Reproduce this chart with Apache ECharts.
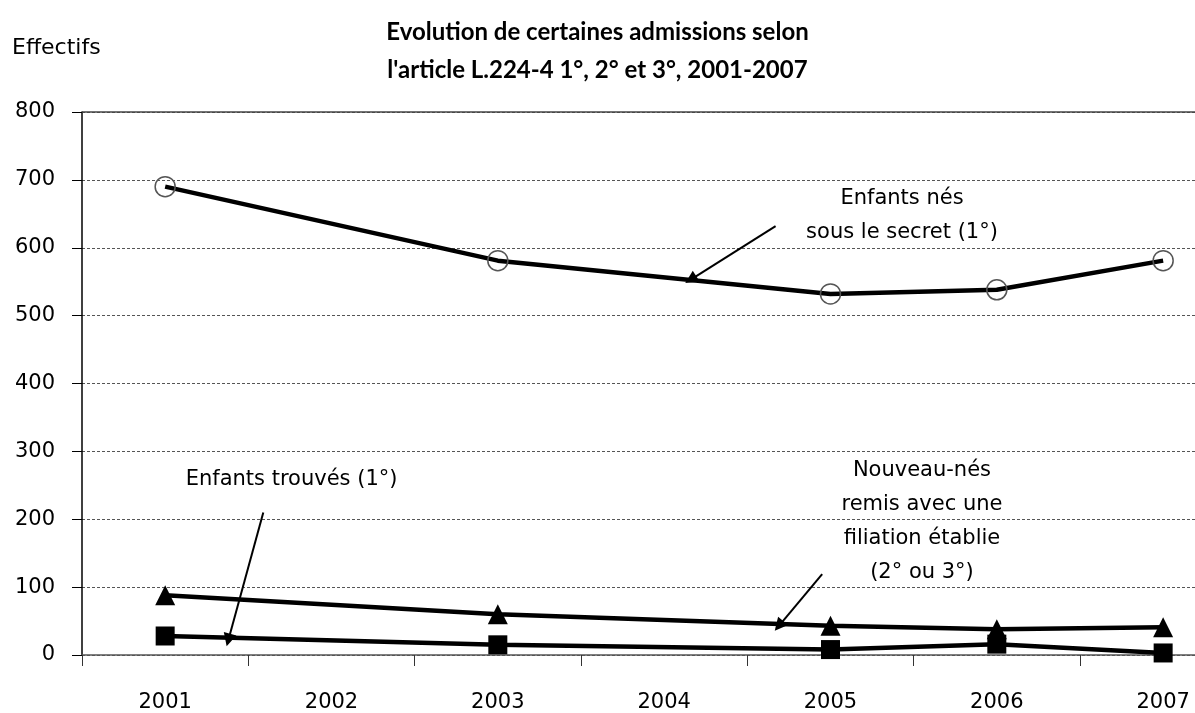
<!DOCTYPE html>
<html><head><meta charset="utf-8">
<script src="https://cdn.jsdelivr.net/npm/echarts@6/dist/echarts.min.js"></script>
<style>html,body{margin:0;padding:0;background:#fff}#c{width:1195px;height:713px}</style>
</head><body><div id="c"></div>
<script>
const years = [2001, 2002, 2003, 2004, 2005, 2006, 2007];
const nesSousSecret = [690, null, 581, null, 532, 538, 581];
const nouveauNes   = [88, null, 60, null, 43, 38, 41];
const enfantsTrouves = [28, null, 15, null, 8, 16, 3];
const yTicks = [0, 100, 200, 300, 400, 500, 600, 700, 800];
const xTicks = [2000.5, 2001.5, 2002.5, 2003.5, 2004.5, 2005.5, 2006.5];
// annotation arrows [startYear, startValue] -> [endYear, endValue]
const arrows = [
  [[2004.67, 632], [2004.16, 553]],
  [[2001.59, 210], [2001.38, 22]],
  [[2004.95, 119], [2004.69, 43]]
];
const notes = [
  {text: 'Enfants nés\nsous le secret (1°)', at: [2005.43, 647]},
  {text: 'Enfants trouvés (1°)', at: [2001.76, 259]},
  {text: 'Nouveau-nés\nremis avec une\nfiliation établie\n(2° ou 3°)', at: [2005.55, 197]}
];
const pairs = vals => years.map((y, i) => [y, vals[i]]).filter(p => p[1] !== null);
const FONT = "'Comic Sans MS','DejaVu Sans',sans-serif";
const TFONT = "'Comic Sans MS',Lato,sans-serif";
const chart = echarts.init(document.getElementById('c'));
chart.setOption({
  animation: false,
  backgroundColor: '#fff',
  title: {
    text: 'Evolution de certaines admissions selon\nl\'article L.224-4 1°, 2° et 3°, 2001-2007',
    left: 'center', top: 8,
    textStyle: {fontFamily: TFONT, fontWeight: 'bold', fontSize: 24, color: '#000', lineHeight: 38}
  },
  graphic: [{type: 'text', left: 12, top: 37, style: {text: 'Effectifs', font: "22px " + FONT, fill: '#000'}}],
  grid: {left: 82, top: 112, right: 0, height: 544},
  xAxis: {
    type: 'value', min: 2000.5, max: 2000.5 + 1113 / 166.33,
    axisLine: {show: true, onZero: false, lineStyle: {color: '#555', width: 1.5}},
    axisTick: {show: true, length: 11, customValues: xTicks, lineStyle: {color: '#333'}},
    axisLabel: {customValues: years, margin: 37, fontFamily: "'DejaVu Sans',sans-serif", fontSize: 21, color: '#000',
      formatter: v => String(v)},
    splitLine: {show: false}
  },
  yAxis: {
    type: 'value', min: 0, max: 800, interval: 100,
    axisLine: {show: true, lineStyle: {color: '#000', width: 1.5}},
    axisTick: {show: true, inside: false, length: 10, lineStyle: {color: '#000'}},
    axisLabel: {margin: 27, fontFamily: "'DejaVu Sans',sans-serif", fontSize: 21, color: '#000',
      formatter: v => yTicks.includes(v) ? String(v) : ''},
    splitLine: {show: true, lineStyle: {type: [3, 2], color: '#555', width: 1}}
  },
  series: [
    {type: 'line', name: 'Enfants nés sous le secret', data: pairs(nesSousSecret),
     lineStyle: {color: '#000', width: 4.5}, symbol: 'circle', symbolSize: 20,
     itemStyle: {color: 'rgba(0,0,0,0)', borderColor: '#555', borderWidth: 1.5}, z: 3,
     markLine: {silent: true, symbol: 'none', label: {show: false},
       lineStyle: {type: 'solid', color: '#444', width: 1.5}, data: [{yAxis: 800}]}},
    {type: 'line', name: 'Nouveau-nés', data: pairs(nouveauNes),
     lineStyle: {color: '#000', width: 4.5}, symbol: 'triangle', symbolSize: 20,
     itemStyle: {color: '#000'}, z: 4},
    {type: 'line', name: 'Enfants trouvés', data: pairs(enfantsTrouves),
     lineStyle: {color: '#000', width: 4.5}, symbol: 'rect', symbolSize: 19,
     itemStyle: {color: '#000'}, z: 4},
    {type: 'lines', coordinateSystem: 'cartesian2d',
     data: arrows.map(a => ({coords: a})),
     symbol: ['none', 'triangle'], symbolSize: [0, 13],
     lineStyle: {color: '#000', width: 2, opacity: 1}, z: 6},
    {type: 'scatter', symbolSize: 0, itemStyle: {opacity: 1},
     data: notes.map(n => ({value: n.at, label: {formatter: n.text}})),
     label: {show: true, position: 'inside', fontFamily: FONT, fontSize: 21, color: '#000', opacity: 1, lineHeight: 34, align: 'center'},
     z: 7, silent: true}
  ]
});
</script></body></html>
